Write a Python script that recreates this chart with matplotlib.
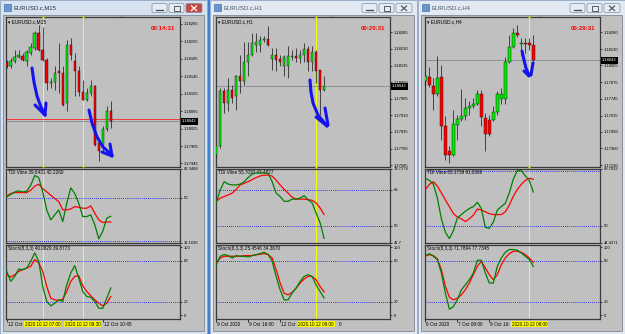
import matplotlib.pyplot as plt
import matplotlib.patches as patches
import matplotlib.transforms as mtransforms

plt.rcParams['font.family'] = ['Liberation Sans', 'DejaVu Sans']

W, H = 625, 334

# ---------------- values ----------------
titles = ["EURUSD.c,M15", "EURUSD.c,H1", "EURUSD.c,H4"]
timers = ["00:14:31", "00:29:31", "00:29:31"]
last_price = 1.18042
m15_red_level = 1.18048

# M15 candles
m15_open = [1.18175, 1.18168, 1.18179, 1.18190, 1.18192, 1.18179, 1.18198, 1.18209, 1.18244, 1.18206,
            1.18183, 1.18129, 1.18133, 1.18156, 1.18152, 1.18084, 1.18217, 1.18179, 1.18156, 1.18108,
            1.18091, 1.18107, 1.18123, 1.17992, 1.17988, 1.18023, 1.18065]
m15_high = [1.18183, 1.18187, 1.18206, 1.18206, 1.18198, 1.18206, 1.18221, 1.18248, 1.18263, 1.18259,
            1.18187, 1.18141, 1.18168, 1.18221, 1.18168, 1.18229, 1.18232, 1.18198, 1.18168, 1.18137,
            1.18118, 1.18137, 1.18126, 1.18004, 1.18030, 1.18076, 1.18088]
m15_low = [1.18164, 1.18164, 1.18175, 1.18187, 1.18179, 1.18168, 1.18194, 1.18206, 1.18202, 1.18179,
           1.18114, 1.18118, 1.18114, 1.18107, 1.18076, 1.18065, 1.18183, 1.18099, 1.18099, 1.18091,
           1.18088, 1.18099, 1.17985, 1.17950, 1.17973, 1.18019, 1.18027]
m15_close = [1.18168, 1.18179, 1.18190, 1.18194, 1.18183, 1.18200, 1.18213, 1.18244, 1.18206, 1.18183,
             1.18129, 1.18133, 1.18152, 1.18152, 1.18080, 1.18217, 1.18194, 1.18156, 1.18110, 1.18091,
             1.18107, 1.18123, 1.17988, 1.17973, 1.18023, 1.18065, 1.18042]

# H1 candles
h1_open = [1.17733, 1.17771, 1.18018, 1.17966, 1.18026, 1.17996, 1.18089, 1.18063, 1.18149, 1.18183,
           1.18228, 1.18228, 1.18251, 1.18255, 1.18164, 1.18183, 1.18164, 1.18131, 1.18131, 1.18173,
           1.18176, 1.18168, 1.18183, 1.18209, 1.18153, 1.18198, 1.18113, 1.18026]
h1_high = [1.17778, 1.18033, 1.18033, 1.18078, 1.18048, 1.18093, 1.18183, 1.18243, 1.18243, 1.18281,
           1.18281, 1.18266, 1.18266, 1.18313, 1.18213, 1.18213, 1.18183, 1.18183, 1.18221, 1.18206,
           1.18213, 1.18206, 1.18236, 1.18221, 1.18221, 1.18206, 1.18116, 1.18086]
h1_low = [1.17726, 1.17763, 1.17921, 1.17928, 1.17966, 1.17936, 1.18011, 1.18048, 1.18086, 1.18176,
          1.18198, 1.18198, 1.18243, 1.18221, 1.18116, 1.18108, 1.18131, 1.18086, 1.18078, 1.18161,
          1.18153, 1.18146, 1.18153, 1.18108, 1.18108, 1.18056, 1.17913, 1.18018]
h1_close = [1.17771, 1.18018, 1.17966, 1.18026, 1.17988, 1.18089, 1.18063, 1.18153, 1.18183, 1.18236,
            1.18243, 1.18251, 1.18254, 1.18228, 1.18183, 1.18161, 1.18149, 1.18173, 1.18176, 1.18176,
            1.18168, 1.18183, 1.18209, 1.18153, 1.18198, 1.18108, 1.18026, 1.18042]

# H4 candles
h4_open = [1.17879, 1.17910, 1.17845, 1.17781, 1.17912, 1.17531, 1.17338, 1.17312, 1.17544, 1.17588,
           1.17609, 1.17673, 1.17686, 1.17706, 1.17784, 1.17596, 1.17578, 1.17578, 1.17639, 1.17742,
           1.17742, 1.18031, 1.18149, 1.18252, 1.18170, 1.18175, 1.18175, 1.18162]
h4_high = [1.17930, 1.17995, 1.17905, 1.18077, 1.18008, 1.17609, 1.17377, 1.17660, 1.17621, 1.17820,
           1.17750, 1.17724, 1.17750, 1.17815, 1.17815, 1.17634, 1.17621, 1.17686, 1.17802, 1.17827,
           1.18072, 1.18239, 1.18291, 1.18317, 1.18214, 1.18214, 1.18214, 1.18239]
h4_low = [1.17853, 1.17840, 1.17660, 1.17763, 1.17428, 1.17274, 1.17248, 1.17300, 1.17428, 1.17570,
          1.17583, 1.17621, 1.17673, 1.17699, 1.17531, 1.17338, 1.17454, 1.17570, 1.17621, 1.17706,
          1.17706, 1.18021, 1.18136, 1.18227, 1.18085, 1.18098, 1.18124, 1.18033]
h4_close = [1.17918, 1.17853, 1.17781, 1.17905, 1.17531, 1.17312, 1.17312, 1.17552, 1.17588, 1.17609,
            1.17673, 1.17686, 1.17706, 1.17784, 1.17603, 1.17475, 1.17475, 1.17639, 1.17784, 1.17784,
            1.18031, 1.18149, 1.18252, 1.18237, 1.18172, 1.18172, 1.18162, 1.18042]

# TDI lines (green = price line, red = signal)
m15_tdi_green = [50.4, 51.4, 52.5, 52.9, 52.5, 52.8, 55.3, 59.4, 58.5, 52.5, 44.9, 40.7, 42.8, 44.9,
                 40.0, 47.7, 54.2, 51.8, 47.7, 42.1, 42.1, 42.8, 38.7, 32.7, 35.9, 41.4, 42.2]
m15_tdi_red = [50.7, 51.8, 52.2, 52.2, 52.2, 52.2, 53.2, 54.9, 55.7, 53.9, 52.5, 51.1, 49.7, 48.4,
               44.9, 44.9, 45.3, 46.3, 46.0, 45.6, 45.6, 46.6, 43.5, 40.7, 39.6, 39.8, 39.8]
h1_tdi_green = [61.5, 68.0, 72.1, 70.9, 70.5, 70.5, 70.9, 72.1, 74.2, 75.9, 76.5, 76.5, 76.5, 76.2,
                72.1, 66.4, 64.7, 62.3, 62.3, 63.4, 63.4, 63.9, 65.1, 63.1, 61.5, 56.5, 51.6, 43.8]
h1_tdi_red = [62.3, 63.9, 64.7, 65.5, 66.4, 68.3, 70.5, 71.3, 72.1, 73.2, 74.2, 75.0, 75.4, 75.4,
              74.9, 72.9, 70.5, 68.3, 66.4, 64.4, 63.4, 63.4, 63.4, 63.1, 62.8, 61.5, 59.0, 55.7]
h4_tdi_green = [65.5, 64.8, 63.5, 59.0, 52.2, 47.8, 45.7, 48.3, 52.5, 53.6, 54.7, 55.6, 56.2, 57.6,
                55.6, 49.4, 49.1, 51.1, 55.1, 56.2, 57.3, 60.7, 65.2, 68.0, 68.0, 66.3, 64.8, 61.0]
h4_tdi_red = [61.8, 63.5, 64.4, 62.9, 60.7, 58.4, 56.2, 53.9, 52.8, 52.2, 51.3, 52.2, 53.4, 55.4,
              55.1, 54.5, 53.9, 53.6, 53.6, 53.6, 54.5, 56.7, 59.6, 61.8, 63.5, 64.8, 65.5, 65.2]

# Stochastic (8,3,3): main (green) and signal (red)
m15_st_main = [64.5, 49.8, 57.1, 68.0, 67.0, 69.5, 79.3, 91.6, 79.3, 42.4, 20.2, 13.8, 17.7, 22.7,
               20.2, 44.8, 62.1, 72.9, 54.7, 35.0, 27.6, 26.6, 20.2, 10.3, 10.3, 25.1, 40.1]
m15_st_signal = [59.6, 56.2, 59.6, 64.5, 67.0, 69.5, 71.9, 81.8, 76.8, 64.5, 42.4, 25.1, 22.7, 21.7,
                 23.6, 35.0, 49.8, 57.1, 58.1, 43.3, 35.0, 28.6, 22.7, 17.7, 13.8, 17.7, 27.6]
h1_st_main = [74.4, 86.7, 89.2, 87.7, 84.2, 87.7, 86.7, 86.7, 85.7, 87.7, 89.2, 90.6, 92.6, 89.2,
              79.3, 57.1, 37.4, 22.7, 22.7, 32.5, 39.9, 49.8, 57.1, 59.6, 57.1, 44.8, 35.0, 25.5]
h1_st_signal = [76.8, 84.2, 86.7, 86.7, 86.7, 86.7, 86.7, 87.7, 87.7, 87.7, 88.7, 89.7, 90.6, 89.2,
                84.2, 67.0, 47.3, 32.5, 30.0, 33.5, 39.9, 47.3, 53.2, 57.1, 57.1, 52.2, 42.4, 34.4]
h4_st_main = [87.7, 90.6, 86.7, 81.8, 62.1, 32.5, 8.9, 12.8, 22.7, 37.4, 44.8, 52.2, 62.1, 80.8,
              80.8, 62.1, 47.3, 47.3, 71.9, 84.2, 92.6, 96.6, 96.6, 95.6, 91.6, 86.7, 81.8, 71.8]
h4_st_signal = [86.7, 89.2, 87.7, 82.8, 67.0, 42.4, 26.6, 22.7, 25.1, 30.0, 37.4, 47.3, 59.6, 71.9,
                79.3, 69.5, 59.6, 52.2, 59.6, 74.4, 84.2, 90.6, 94.1, 94.1, 92.6, 89.2, 84.2, 77.7]

tdi_labels = ["TDI Vline 39.8431 42.2260", "TDI Vline 55.7030 43.4827", "TDI Vline 65.1739 61.0396"]
stoch_labels = ["Stoch(8,3,3) 40.0829 39.8773", "Stoch(8,3,3) 25.4546 34.3670",
                "Stoch(8,3,3) 71.7894 77.7345"]
tdi_scales = [(31.1636, 62.3468), (41.7, 78.7179), (44.4371, 68.7032)]
tdi_scale_labels = [["31.1636", "50", "62.3468"], ["41.7", "50", "68", "78.7179"],
                    ["44.4371", "50", "68.7032"]]
tdi_levels = [32, 50, 68]
stoch_levels = [20, 80]

m15_price_ticks = [1.18265, 1.18225, 1.18185, 1.18145, 1.18105, 1.18065, 1.18025, 1.17985, 1.17945]
h1_price_ticks = [1.18285, 1.18210, 1.18135, 1.18060, 1.17985, 1.17910, 1.17835, 1.17760, 1.17685]
h4_price_ticks = [1.18260, 1.18130, 1.18005, 1.17875, 1.17745, 1.17615, 1.17490, 1.17360, 1.17230]

m15_vlines = [9, 19]
m15_vline_labels = ["2020.10.12 07:00", "2020.10.12 09:30"]
h1_vlines = [25]
h1_vline_labels = ["2020.10.12 09:00"]
h4_vlines = [26]
h4_vline_labels = ["2020.10.12 08:00"]

# time-scale ticks; the labels are what stays visible beside the yellow line tags
m15_time_idx = [0, 8, 16, 24]
m15_time_labels = ["12 Oct", "", "", "12 Oct 10:45"]
h1_time_idx = [0, 8, 16, 24]
h1_time_labels = ["9 Oct 2020", "9 Oct 16:00", "12 Oct", ""]
h1_time_tail = (30.6, "0")
h4_time_idx = [0, 8, 16]
h4_time_labels = ["6 Oct 2020", "7 Oct 08:00", "8 Oct 16:"]

# ---------------- layout (pixels) ----------------
windows = [(0, 207), (210, 417), (418, 625)]
chart_x = [(6, 180), (216, 390), (425, 600)]
xlims = [(-0.18, 43.3), (-0.05, 43.5), (-0.1, 43.7)]
ylims = [(1.17938, 1.18281), (1.17679, 1.18354), (1.17220, 1.18379)]

panels = [
    (m15_open, m15_high, m15_low, m15_close, m15_tdi_green, m15_tdi_red, m15_st_main, m15_st_signal,
     m15_price_ticks, m15_vlines, m15_vline_labels, m15_time_idx, m15_time_labels),
    (h1_open, h1_high, h1_low, h1_close, h1_tdi_green, h1_tdi_red, h1_st_main, h1_st_signal,
     h1_price_ticks, h1_vlines, h1_vline_labels, h1_time_idx, h1_time_labels),
    (h4_open, h4_high, h4_low, h4_close, h4_tdi_green, h4_tdi_red, h4_st_main, h4_st_signal,
     h4_price_ticks, h4_vlines, h4_vline_labels, h4_time_idx, h4_time_labels),
]

BG = '#c0c0c0'
BULL, BEAR = '#00ee00', '#ff0000'
YELLOW = '#ffff00'


def px_rect(x0, y0, x1, y1):
    return [x0 / W, 1 - y1 / H, (x1 - x0) / W, (y1 - y0) / H]


def style_pane(ax):
    ax.set_facecolor(BG)
    for s in ax.spines.values():
        s.set_color('#3a3a3a')
        s.set_linewidth(0.9)
    ax.yaxis.tick_right()
    ax.tick_params(axis='y', direction='out', length=1.5, width=0.5, labelsize=3, pad=1.2)
    ax.tick_params(axis='x', direction='out', length=2, width=0.5, labelbottom=False)
    ax.set_xticks([])


fig = plt.figure(figsize=(W / 100, H / 100), dpi=100)
fig.patch.set_facecolor('#dde6f0')

# window chrome
bg = fig.add_axes([0, 0, 1, 1], zorder=0)
bg.set_xlim(0, W)
bg.set_ylim(H, 0)
bg.axis('off')
bg.add_patch(patches.Rectangle((207, 0), 3, H, facecolor='#3f7fd6', edgecolor='none'))
for k, (x0, x1) in enumerate(windows):
    bg.add_patch(patches.Rectangle((x0, 0), x1 - x0, H, facecolor='#d6e2f0' if k == 0 else '#e2e9f2',
                                   edgecolor='#8fa6c2', linewidth=0.6))
    bg.add_patch(patches.Rectangle((x0 + 3, 15), x1 - x0 - 6, H - 18, facecolor=BG,
                                   edgecolor='#7d8894', linewidth=0.6))
    bg.add_patch(patches.Rectangle((x0 + 4, 4), 7, 7, facecolor='#6a96d0', edgecolor='#35619e', linewidth=0.4))
    bg.text(x0 + 14, 8, titles[k], fontsize=4.2, color='#1f2f44' if k == 0 else '#4a5665', va='center')
    for j, bx in enumerate([x1 - 55, x1 - 38, x1 - 21]):
        close = j == 2
        bg.add_patch(patches.FancyBboxPatch((bx, 3.5), 15 if not close else 16, 9,
                                            boxstyle='round,pad=0,rounding_size=1.5',
                                            facecolor='#c8483e' if (close and k == 0) else '#e6ecf3',
                                            edgecolor='#7b8ea6', linewidth=0.5))
    bg.plot([x1 - 51, x1 - 44], [9.5, 9.5], color='#444', lw=0.9)
    bg.add_patch(patches.Rectangle((x1 - 33.5, 6), 6, 4.5, facecolor='none', edgecolor='#444', linewidth=0.6))
    xc = 'white' if k == 0 else '#555'
    bg.plot([x1 - 15.5, x1 - 10.5], [6, 10.5], color=xc, lw=0.9)
    bg.plot([x1 - 15.5, x1 - 10.5], [10.5, 6], color=xc, lw=0.9)
    # chart shift marker
    cx0 = chart_x[k][0]
    bg.plot(cx0 + 114.7, 18, marker='v', ms=2.5, color='#6d7d8d', mec='none')

for k, p in enumerate(panels):
    (o, hi, lo, c, tg, tr, sm, ss, pticks, vl, vl_lab, t_idx, t_lab) = p
    cx0, cx1 = chart_x[k]
    n = len(o)
    x = list(range(n))

    ax = fig.add_axes(px_rect(cx0, 17, cx1, 166.5), zorder=2)
    at = fig.add_axes(px_rect(cx0, 168.5, cx1, 242.5), zorder=2)
    ast = fig.add_axes(px_rect(cx0, 244.5, cx1, 319), zorder=2)
    for a in (ax, at, ast):
        style_pane(a)
        a.set_xlim(*xlims[k])
        for v in vl:
            a.axvline(v, color=YELLOW, lw=0.7, zorder=1)

    # ---- price chart ----
    ax.set_ylim(*ylims[k])
    span = ylims[k][1] - ylims[k][0]
    ax.axhline(last_price, color='#74828f', lw=0.5, zorder=1)
    if k == 0:
        ax.axhline(m15_red_level, color='#ff2020', lw=0.6, zorder=1)
    cols = [BULL if cc >= oo else BEAR for oo, cc in zip(o, c)]
    ax.vlines(x, lo, hi, color='#101010', lw=0.5, zorder=3)
    bottoms = [min(a, b) for a, b in zip(o, c)]
    heights = [max(abs(b - a), span * 0.004) for a, b in zip(o, c)]
    ax.bar(x, heights, bottom=bottoms, width=0.62, color=cols, edgecolor='#101010',
           linewidth=0.3, zorder=4)
    ax.set_yticks(pticks)
    ax.set_yticklabels([f"{v:.5f}" for v in pticks])
    for v in vl:
        ax.plot([v, v], [ylims[k][1], ylims[k][0]], ls='none', marker='s', ms=1.3,
                color=YELLOW, mec='#b0a000', mew=0.2, clip_on=False, zorder=5)
    tr_blend = mtransforms.blended_transform_factory(ax.transAxes, ax.transData)
    ax.text(1.012, last_price, f"{last_price:.5f}", transform=tr_blend, color='white', fontsize=3,
            ha='left', va='center', bbox=dict(boxstyle='square,pad=0.35', fc='black', ec='none'), zorder=6)
    ax.text(0.012, 0.985, "\u25be " + titles[k], transform=ax.transAxes, fontsize=3.4, va='top', ha='left')
    ax.text(0.972, 0.92, timers[k], transform=ax.transAxes, fontsize=4.4, color='#ff0000',
            weight='bold', ha='right', va='center')

    # ---- TDI ----
    lo_t, hi_t = tdi_scales[k]
    at.set_ylim(lo_t, hi_t)
    for lv in tdi_levels:
        if lo_t < lv < hi_t:
            at.axhline(lv, color='#0000ff', lw=0.6, ls=(0, (1, 1.5)), zorder=1)
    at.plot(x, tr, color='#ff0000', lw=0.9, zorder=3)
    at.plot(x, tg, color='#008000', lw=0.9, zorder=4)
    labs = tdi_scale_labels[k]
    at.set_yticks([float(s) for s in labs])
    at.set_yticklabels(labs)
    at.text(0.012, 0.975, tdi_labels[k], transform=at.transAxes, fontsize=3.3, va='top', ha='left')

    # ---- Stochastic ----
    ast.set_ylim(-5.5, 104)
    for lv in stoch_levels:
        ast.axhline(lv, color='#0000ff', lw=0.6, ls=(0, (1, 1.5)), zorder=1)
    ast.plot(x, ss, color='#ff0000', lw=0.9, zorder=3)
    ast.plot(x, sm, color='#008000', lw=0.9, zorder=4)
    ast.set_yticks([0, 20, 80, 100])
    ast.set_yticklabels(['0', '20', '80', '100'])
    ast.text(0.012, 0.975, stoch_labels[k], transform=ast.transAxes, fontsize=3.3, va='top', ha='left')

    # time axis
    ast.set_xticks(t_idx)
    ast.tick_params(axis='x', length=2, width=0.5)
    tb = mtransforms.blended_transform_factory(ast.transData, ast.transAxes)
    for ti, tl in zip(t_idx, t_lab):
        if tl:
            ast.text(ti + 0.2, -0.035, tl, transform=tb, fontsize=3.4, ha='left', va='top', zorder=3)
    if k == 1:
        ast.text(h1_time_tail[0], -0.035, h1_time_tail[1], transform=tb, fontsize=3.4,
                 ha='left', va='top')
    for v, vlab in zip(vl, vl_lab):
        ast.text(v, -0.035, vlab, transform=tb, fontsize=3.3, ha='center', va='top', zorder=6,
                 bbox=dict(boxstyle='square,pad=0.15', fc=YELLOW, ec='none'))

# hand-drawn blue arrows (annotation strokes, in pixel space)
ov = fig.add_axes([0, 0, 1, 1], zorder=10)
ov.set_xlim(0, W)
ov.set_ylim(H, 0)
ov.axis('off')
ov.patch.set_alpha(0)
strokes = [
    [(32, 68), (34, 82), (37, 96), (41, 107), (45, 115)],
    [(35, 105), (45, 115)], [(46, 103), (45, 115)],
    [(89, 110), (92, 123), (97, 137), (103, 147), (112, 155)],
    [(102, 152), (112, 156)], [(110, 144), (112, 156)],
    [(310, 80), (311, 92), (313, 103), (318, 115), (327, 126)],
    [(316, 117), (327, 126)], [(325, 108), (328, 125)],
    [(522, 51), (524, 60), (526, 68), (529, 75)],
    [(524, 71), (529, 76)], [(533, 63), (531, 75)],
]
for s in strokes:
    ov.plot([q[0] for q in s], [q[1] for q in s], color='#1414f0', lw=2.2,
            solid_capstyle='round', solid_joinstyle='round')

plt.savefig("out.png", dpi=100, facecolor=fig.get_facecolor())
